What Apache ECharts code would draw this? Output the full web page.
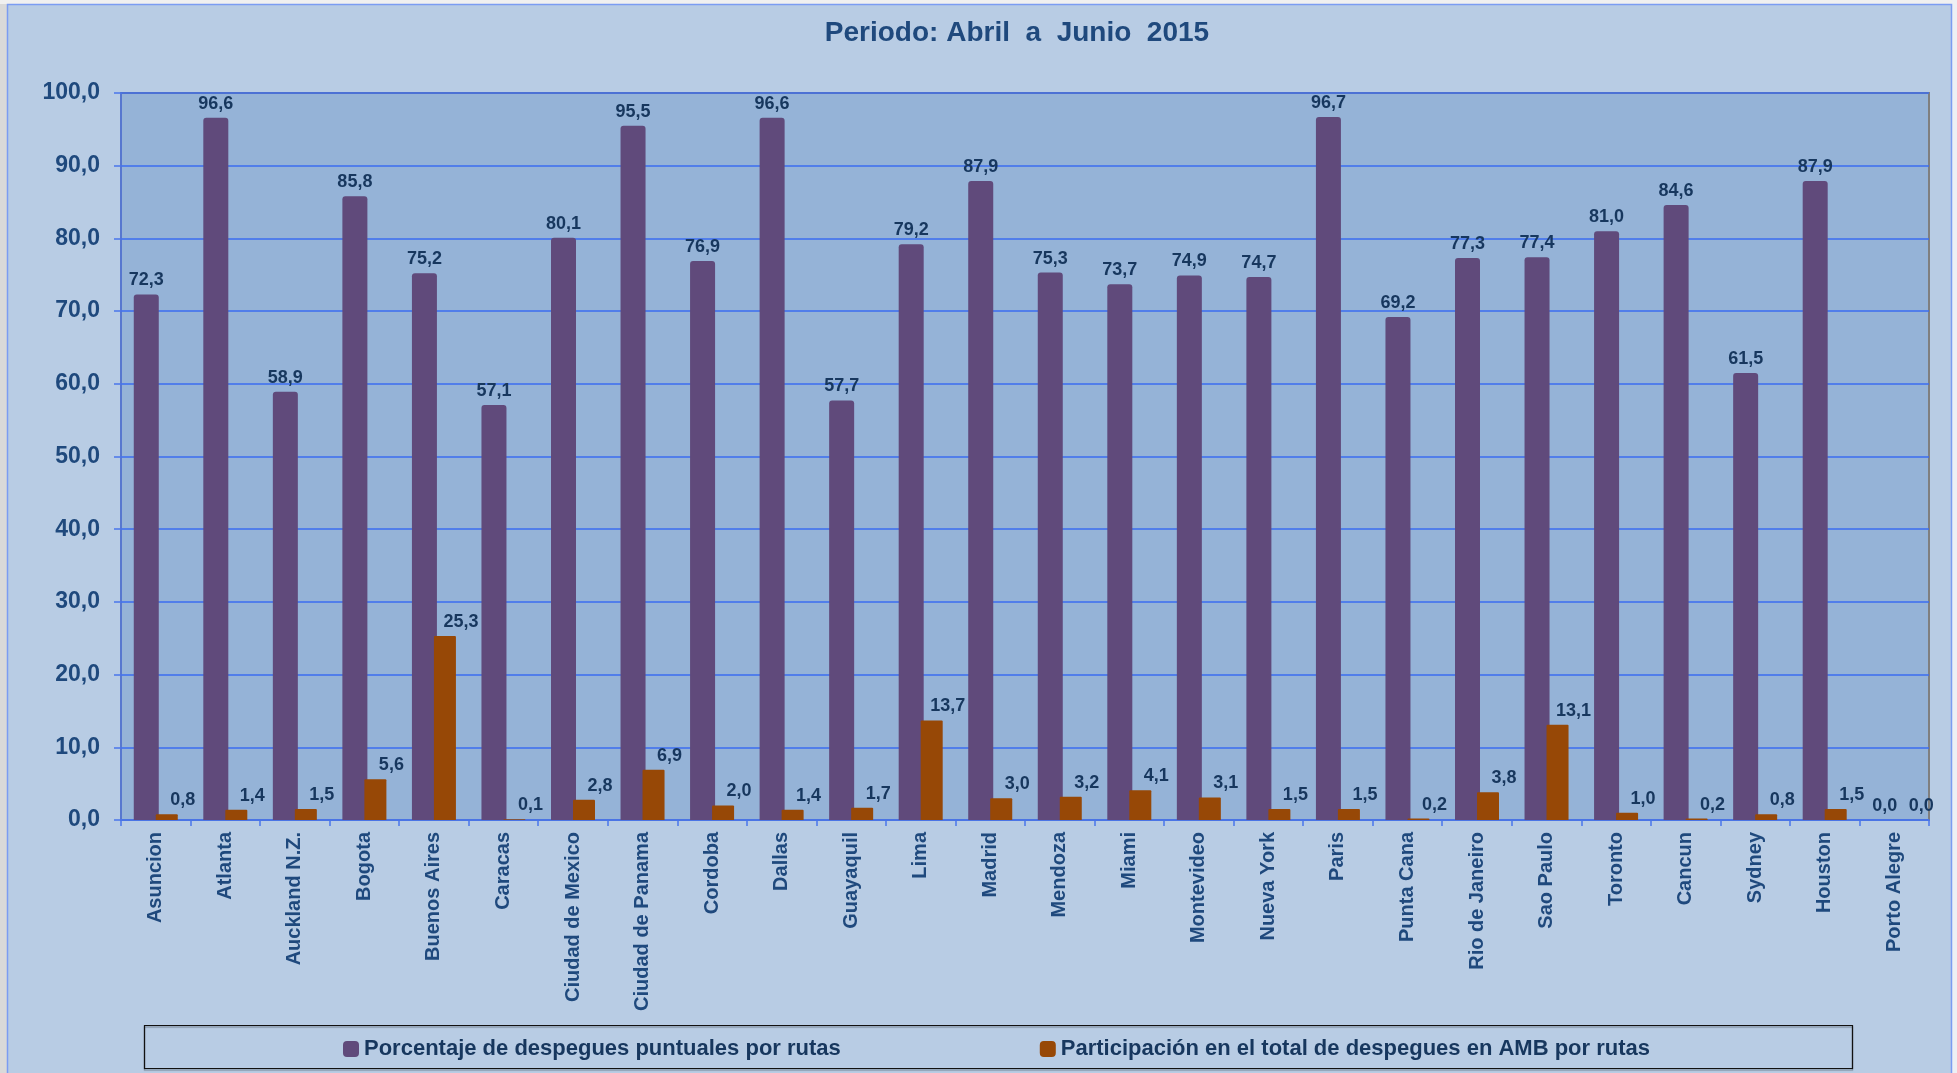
<!DOCTYPE html>
<html>
<head>
<meta charset="utf-8">
<script src="https://cdn.jsdelivr.net/npm/echarts@6/dist/echarts.min.js"></script>
<style>
html, body { margin: 0; padding: 0; }
#chart { width: 1957px; height: 1073px; }
</style>
</head>
<body>
<div id="chart"></div>
<script>
var titleText = 'Periodo: Abril  a  Junio  2015'
var rutas = ['Asuncion', 'Atlanta', 'Auckland N.Z.', 'Bogota', 'Buenos Aires', 'Caracas',
  'Ciudad de Mexico', 'Ciudad de Panama', 'Cordoba', 'Dallas', 'Guayaquil', 'Lima', 'Madrid',
  'Mendoza', 'Miami', 'Montevideo', 'Nueva York', 'Paris', 'Punta Cana', 'Rio de Janeiro',
  'Sao Paulo', 'Toronto', 'Cancun', 'Sydney', 'Houston', 'Porto Alegre']
var puntuales = [72.3, 96.6, 58.9, 85.8, 75.2, 57.1, 80.1, 95.5, 76.9, 96.6, 57.7, 79.2, 87.9,
  75.3, 73.7, 74.9, 74.7, 96.7, 69.2, 77.3, 77.4, 81.0, 84.6, 61.5, 87.9, 0.0]
var participacion = [0.8, 1.4, 1.5, 5.6, 25.3, 0.1, 2.8, 6.9, 2.0, 1.4, 1.7, 13.7, 3.0,
  3.2, 4.1, 3.1, 1.5, 1.5, 0.2, 3.8, 13.1, 1.0, 0.2, 0.8, 1.5, 0.0]
var serieNames = ['Porcentaje de despegues puntuales por rutas', 'Participación en el total de despegues en AMB por rutas']

var font = 'Liberation Sans, Arial, sans-serif'
var navy = '#1f497d'
var darkNavy = '#17375e'

// formato con coma decimal
function fmt(v) {
  return Number(v).toFixed(1).replace('.', ',')
}

var chartDom = document.getElementById('chart')
var myChart = echarts.init(chartDom)
var option

option = {
  backgroundColor: '#b8cce4',
  animation: false,
  title: {
    text: titleText,
    left: 1012,
    top: 14,
    textAlign: 'center',
    textStyle: { fontFamily: font, fontSize: 28, fontWeight: 'bold', color: navy }
  },
  graphic: [
    { type: 'rect', shape: { x: 0, y: 0, width: 7, height: 1073 }, style: { fill: '#d9d9d9' }, z: -1 },
    { type: 'rect', shape: { x: 0, y: 0, width: 1957, height: 4 }, style: { fill: '#f0f0f0' }, z: -1 },
    { type: 'rect', shape: { x: 1952, y: 0, width: 5, height: 1073 }, style: { fill: '#eef0f4' }, z: -1 },
    { type: 'rect', shape: { x: 7.5, y: 4.5, width: 1944, height: 1100 }, style: { fill: null, stroke: '#7b9cf2', lineWidth: 1.5 }, z: -1 },
    { type: 'rect', shape: { x: 144.5, y: 1025.5, width: 1708, height: 43 }, style: { fill: null, stroke: '#111', lineWidth: 1.2, shadowColor: 'rgba(0,0,0,0.4)', shadowOffsetY: 1.5, shadowBlur: 1 }, z: -1 }
  ],
  legend: {
    data: serieNames,
    left: 343,
    top: 1038,
    padding: 0,
    itemWidth: 16,
    itemHeight: 16,
    itemGap: 199,
    icon: 'roundRect',
    textStyle: { fontFamily: font, fontSize: 22, fontWeight: 'bold', color: darkNavy }
  },
  grid: {
    left: 121,
    top: 93,
    right: 28,
    bottom: 253,
    show: true,
    backgroundColor: '#95b3d7',
    borderColor: '#7f7f7f',
    borderWidth: 2
  },
  xAxis: [
    {
      type: 'category',
      data: rutas,
      axisLine: { lineStyle: { color: '#4a75ea', width: 1.5 } },
      axisTick: { show: true, length: 6, lineStyle: { color: '#4a75ea', width: 1.5 } },
      axisLabel: {
        rotate: 90,
        margin: 12,
        interval: 0,
        fontFamily: font,
        fontSize: 20,
        fontWeight: 'bold',
        color: navy
      }
    }
  ],
  yAxis: [
    {
      type: 'value',
      min: 0,
      max: 100,
      interval: 10,
      axisLine: { show: true, lineStyle: { color: '#4a75ea', width: 1.5 } },
      axisTick: { show: true, length: 7, lineStyle: { color: '#4a75ea', width: 1.5 } },
      splitLine: { lineStyle: { color: '#3b6cf0', width: 1.5 } },
      axisLabel: {
        margin: 21,
        fontFamily: font,
        fontSize: 23,
        fontWeight: 'bold',
        color: navy,
        formatter: fmt
      }
    }
  ],
  series: [
    {
      name: serieNames[0],
      type: 'bar',
      barWidth: 25,
      barGap: '-12%',
      itemStyle: { color: '#604a7b', borderRadius: [3, 3, 0, 0] },
      label: {
        show: true,
        position: 'top',
        distance: 5,
        fontFamily: font,
        fontSize: 18,
        fontWeight: 'bold',
        color: darkNavy,
        formatter: function(p) { return fmt(p.value) }
      },
      data: puntuales
    },
    {
      name: serieNames[1],
      type: 'bar',
      barWidth: 22,
      itemStyle: { color: '#974806', borderRadius: [1, 1, 0, 0] },
      label: {
        show: true,
        position: 'top',
        distance: 5,
        offset: [16, 0],
        fontFamily: font,
        fontSize: 18,
        fontWeight: 'bold',
        color: darkNavy,
        formatter: function(p) { return fmt(p.value) }
      },
      data: participacion
    }
  ]
}

option && myChart.setOption(option)
</script>
</body>
</html>
